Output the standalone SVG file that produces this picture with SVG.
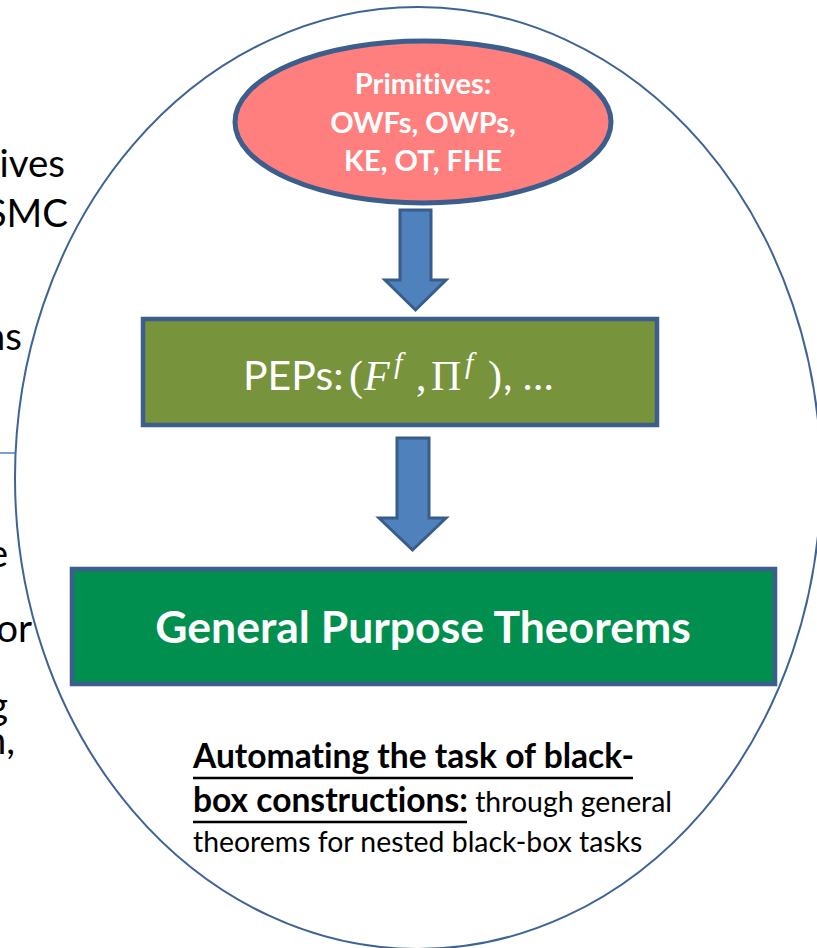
<svg xmlns="http://www.w3.org/2000/svg" width="817" height="948" viewBox="0 0 817 948">
<style>
text{font-variant-ligatures:none}
.frag{font-family:Lato,"Open Sans",sans-serif;font-size:38.5px;fill:#000}
.wt{font-family:Lato,"Open Sans",sans-serif;fill:#fff}
.bt{font-family:Lato,"Open Sans",sans-serif;fill:#000}
.arrow{fill:#4F81BD;stroke:#385D8A;stroke-width:3;stroke-linejoin:miter}
.box{stroke:#3B5E8C;stroke-width:4.5}
.m{font-family:"Liberation Serif",serif;fill:#fff}
</style>
<rect width="817" height="948" fill="#fff"/>
<g id="left-fragments">
<text class="frag" x="65" y="177" text-anchor="end">ives</text>
<text class="frag" x="68" y="227" text-anchor="end">SMC</text>
<text class="frag" x="22" y="350" text-anchor="end">ns</text>
<line x1="0" y1="453" x2="15" y2="453" stroke="#4F81BD" stroke-width="1.5"/>
<text class="frag" x="8" y="567" text-anchor="end">e</text>
<text class="frag" x="32" y="642" text-anchor="end">or</text>
<text class="frag" x="8" y="719" text-anchor="end">g</text>
<text class="frag" x="15" y="754" text-anchor="end">n,</text>
</g>
<g id="outer-ellipse">
<ellipse cx="418" cy="478" rx="403" ry="471" fill="none" stroke="#3E6496" stroke-width="2"/>
</g>
<g id="connectors">
<polygon class="arrow" points="400,210 431,210 431,280 446,280 415.5,310 385,280 400,280"/>
<polygon class="arrow" points="397,438 429,438 429,518 446,518 412.5,550 379,518 397,518"/>
</g>
<g id="primitives">
<ellipse cx="423" cy="122" rx="188" ry="81" fill="#FF7F7F" stroke="#3B5E8C" stroke-width="5"/>
<text class="wt" font-weight="bold" font-size="29" text-anchor="middle"><tspan x="423" y="94">Primitives:</tspan><tspan x="423" y="133">OWFs, OWPs,</tspan><tspan x="423" y="171">KE, OT, FHE</tspan></text>
</g>
<g id="peps">
<rect class="box" x="143" y="319" width="514" height="106" fill="#77933C"/>
<text class="wt" x="243" y="390" font-size="41">PEPs:</text>
<text class="m" font-size="42" y="390"><tspan x="349">(</tspan><tspan x="364" font-style="italic">F</tspan><tspan x="394" y="373" font-size="30" font-style="italic">f</tspan><tspan x="416" y="390">,</tspan><tspan x="431">Π</tspan><tspan x="465" y="373" font-size="30" font-style="italic">f</tspan><tspan x="488" y="390">)</tspan></text>
<text class="wt" x="503" y="390" font-size="41">, …</text>
</g>
<g id="gpt">
<rect class="box" x="72" y="569" width="703" height="115" fill="#008F4E"/>
<text class="wt" x="423" y="643" font-size="44.5" font-weight="bold" text-anchor="middle">General Purpose Theorems</text>
</g>
<g id="caption">
<text class="bt" x="193" y="768" font-size="33.6" font-weight="bold">Automating the task of black-</text>
<line x1="193" y1="778" x2="633" y2="778" stroke="#000" stroke-width="2.5"/>
<text class="bt" x="193" y="812" font-size="33.6"><tspan font-weight="bold">box constructions:</tspan><tspan font-size="28.4"> through general</tspan></text>
<line x1="193" y1="822" x2="467" y2="822" stroke="#000" stroke-width="2.5"/>
<text class="bt" x="193" y="852" font-size="28.4">theorems for nested black-box tasks</text>
</g>
</svg>
